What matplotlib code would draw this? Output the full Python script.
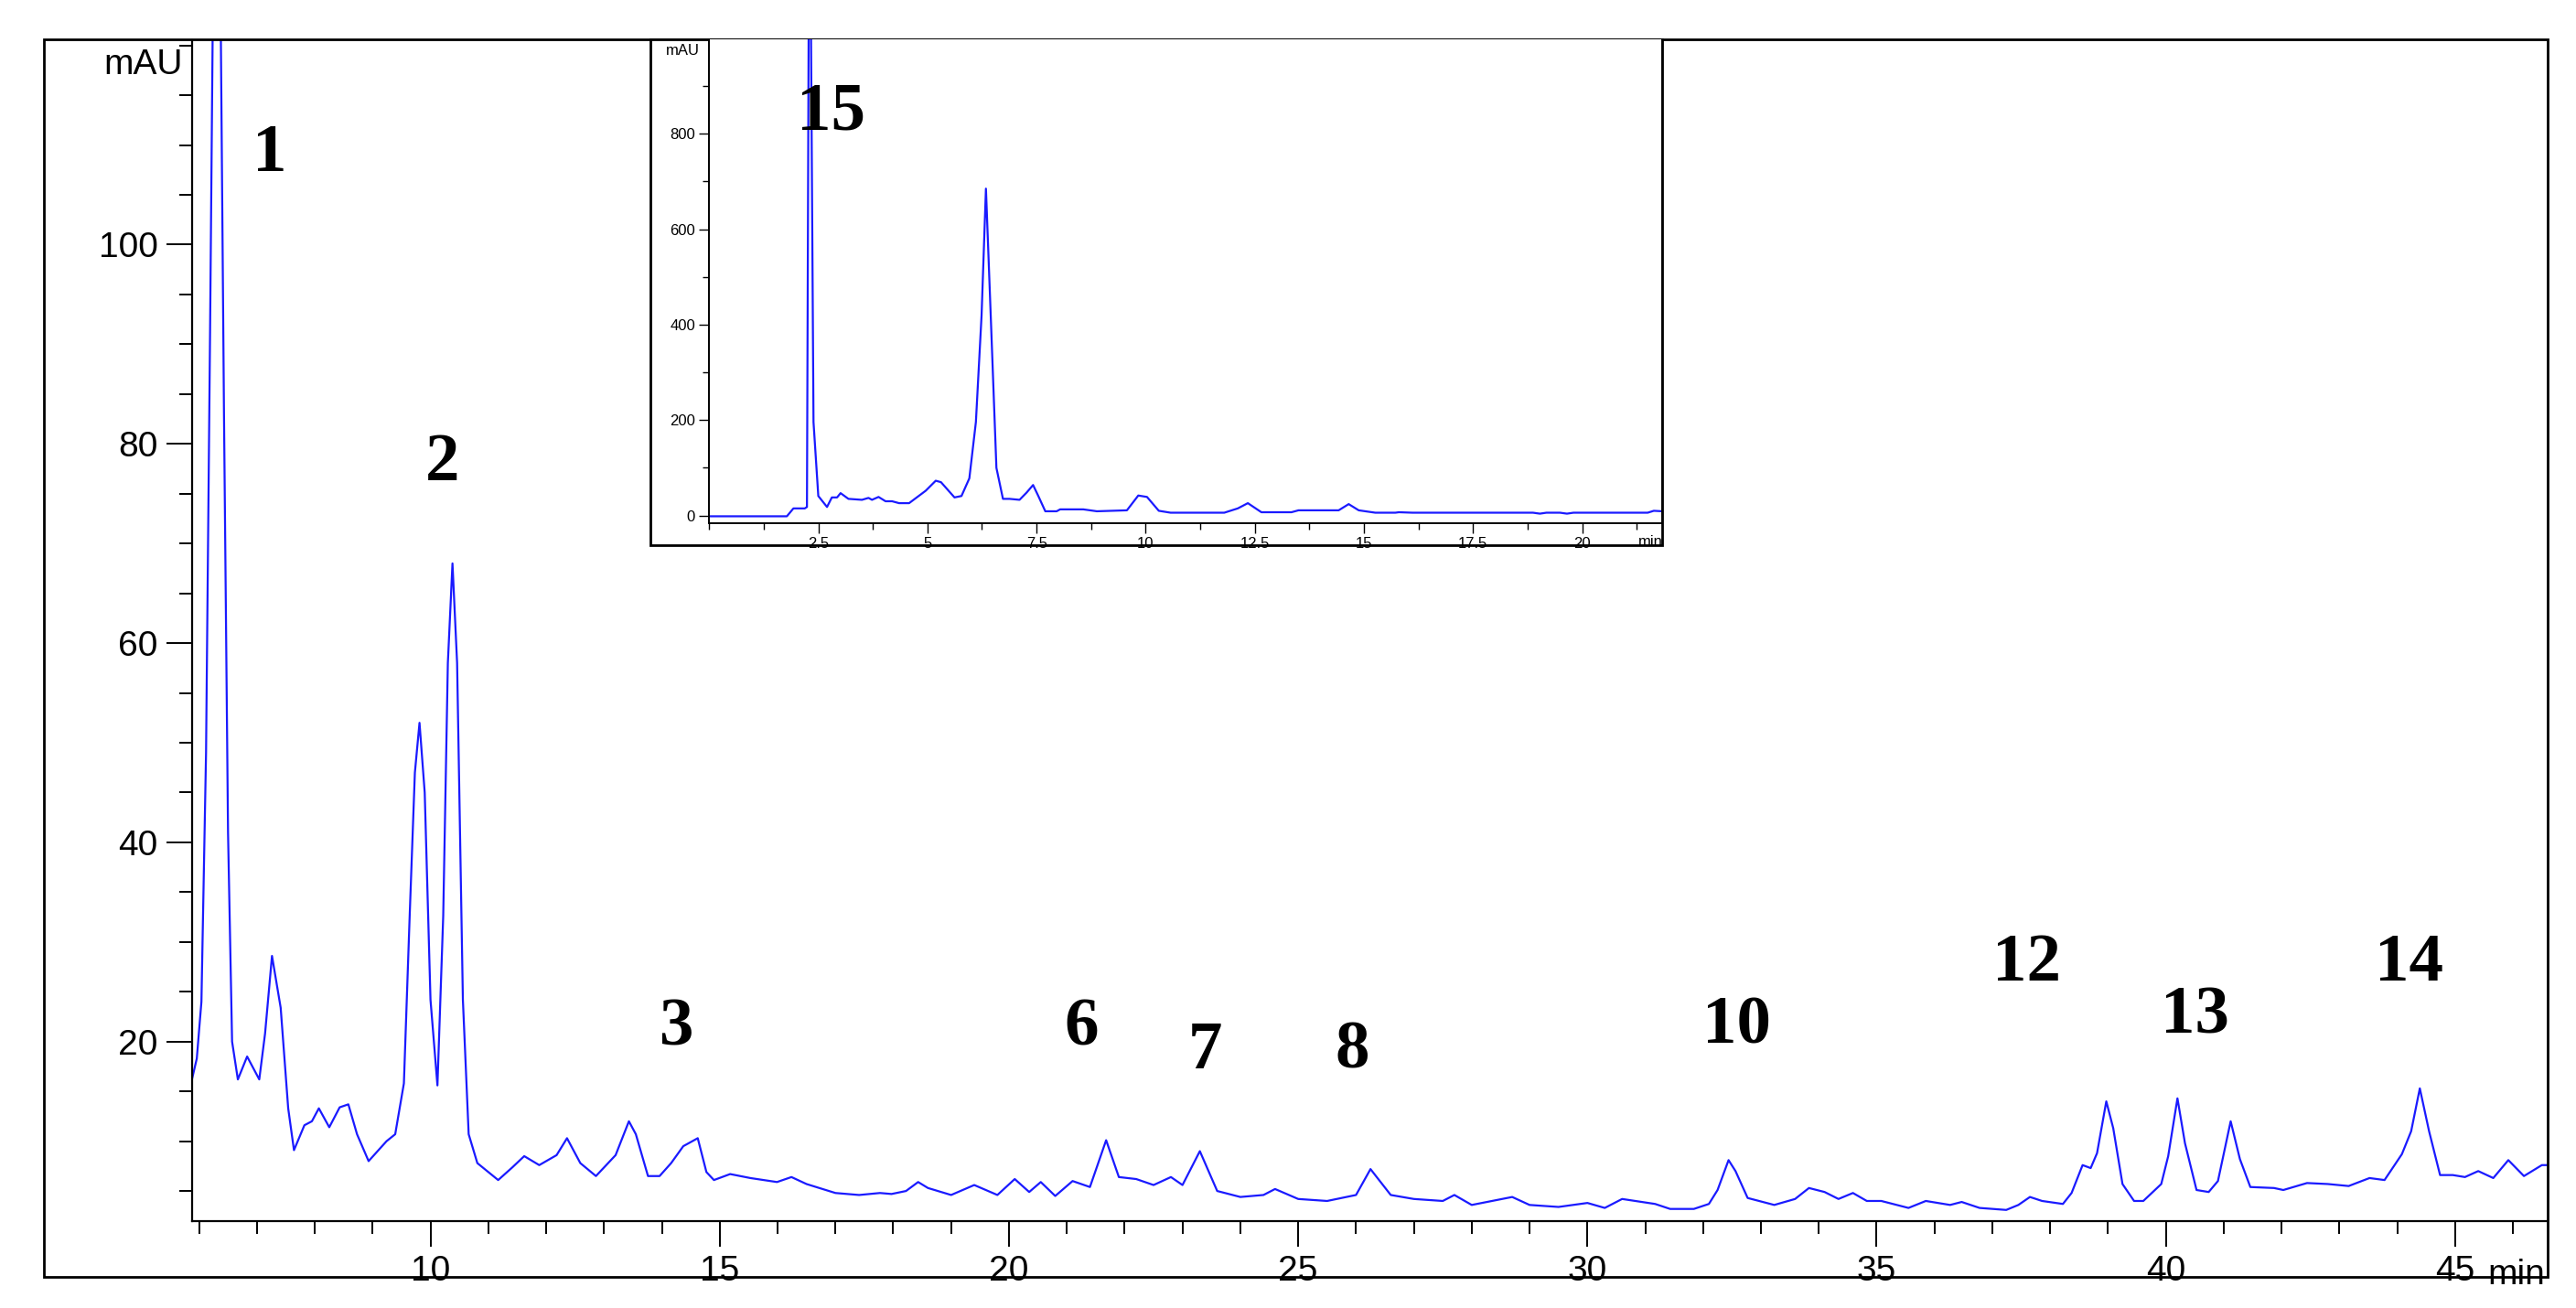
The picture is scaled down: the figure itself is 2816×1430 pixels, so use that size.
import matplotlib.pyplot as plt
from matplotlib.patches import Rectangle
from matplotlib.ticker import MultipleLocator

plt.rcParams['font.family'] = ['Liberation Sans Narrow', 'Liberation Sans', 'DejaVu Sans']

# main chromatogram (min, mAU)
main_t = [5.86, 5.96, 6.04, 6.12, 6.19, 6.24, 6.37, 6.43, 6.5, 6.57, 6.67, 6.83, 7.04, 7.14, 7.26,
          7.41, 7.54, 7.64, 7.82, 7.95, 8.07, 8.25, 8.43, 8.58, 8.73, 8.93, 9.24, 9.39, 9.54, 9.64,
          9.73, 9.81, 9.9, 10.0, 10.12, 10.22, 10.30, 10.38, 10.46, 10.56, 10.66, 10.81, 11.17, 11.42,
          11.62, 11.88, 12.18, 12.36, 12.59, 12.86, 13.2, 13.43, 13.55, 13.76, 13.96, 14.16, 14.37,
          14.62, 14.77, 14.9, 15.18, 15.53, 15.99, 16.24, 16.5, 17.0, 17.41, 17.77, 17.97, 18.22,
          18.43, 18.6, 19.0, 19.4, 19.8, 20.1, 20.35, 20.55, 20.8, 21.1, 21.4, 21.68, 21.9, 22.2,
          22.5, 22.8, 23.0, 23.3, 23.6, 24.0, 24.4, 24.6, 25.0, 25.5, 26.0, 26.25, 26.6, 27.0, 27.5,
          27.7, 28.0, 28.7, 29.0, 29.5, 30.0, 30.3, 30.6, 31.17, 31.43, 31.84, 32.1, 32.25, 32.44,
          32.56, 32.77, 33.23, 33.59, 33.83, 34.1, 34.34, 34.59, 34.83, 35.08, 35.55, 35.85, 36.27,
          36.47, 36.78, 37.24, 37.45, 37.65, 37.86, 38.22, 38.37, 38.56, 38.7, 38.81, 38.97, 39.09,
          39.25, 39.45, 39.61, 39.92, 40.04, 40.2, 40.33, 40.53, 40.74, 40.9, 41.12, 41.28, 41.46,
          41.87, 42.03, 42.44, 42.8, 43.16, 43.52, 43.78, 44.08, 44.24, 44.39, 44.55, 44.74, 44.96,
          45.17, 45.4, 45.66, 45.92, 46.19, 46.5, 46.6]
main_y = [15.8, 18.3, 24, 49, 91.6, 125, 125, 83, 41, 20, 16.2, 18.5, 16.2, 20.8, 28.6,
          23.4, 13.3, 9.1, 11.6, 12, 13.3, 11.4, 13.4, 13.7, 10.7, 8, 10, 10.7, 15.8, 32.6,
          47, 52, 45, 24.2, 15.6, 32.6, 58, 68, 58, 24.2, 10.7, 7.8, 6.1, 7.4,
          8.5, 7.6, 8.6, 10.3, 7.8, 6.5, 8.6, 12, 10.7, 6.5, 6.5, 7.8, 9.5,
          10.3, 6.9, 6.1, 6.7, 6.3, 5.9, 6.4, 5.7, 4.8, 4.6, 4.8, 4.7, 5.0,
          5.9, 5.3, 4.6, 5.6, 4.6, 6.2, 4.9, 5.9, 4.5, 6.0, 5.4, 10.1, 6.4, 6.2,
          5.6, 6.4, 5.6, 9.0, 5.0, 4.4, 4.6, 5.2, 4.2, 4.0, 4.6, 7.2, 4.6, 4.2, 4.0,
          4.6, 3.6, 4.4, 3.6, 3.4, 3.8, 3.3, 4.2, 3.7, 3.2, 3.2, 3.7, 5.1, 8.1,
          7.0, 4.3, 3.6, 4.2, 5.3, 4.9, 4.2, 4.8, 4.0, 4.0, 3.3, 4.0, 3.6,
          3.9, 3.3, 3.1, 3.6, 4.4, 4.0, 3.7, 4.8, 7.6, 7.3, 8.8, 14.0, 11.3,
          5.7, 4.0, 4.0, 5.7, 8.5, 14.3, 9.8, 5.1, 4.9, 6.0, 12.0, 8.2, 5.4,
          5.3, 5.1, 5.8, 5.7, 5.5, 6.3, 6.1, 8.7, 11.0, 15.3, 11.0, 6.6, 6.6,
          6.4, 7.0, 6.3, 8.1, 6.5, 7.6, 7.6]

# inset chromatogram (min, mAU)
inset_t = [0, 1.78, 1.93, 2.19, 2.24, 2.28, 2.33, 2.39, 2.5, 2.7, 2.81, 2.93, 3.01, 3.19, 3.5,
           3.65, 3.73, 3.88, 4.04, 4.19, 4.35, 4.58, 4.96, 5.19, 5.31, 5.62, 5.78, 5.96, 6.11,
           6.24, 6.34, 6.45, 6.58, 6.73, 6.88, 7.11, 7.27, 7.42, 7.54, 7.7, 7.96, 8.04, 8.57,
           8.88, 9.57, 9.83, 10.03, 10.3, 10.57, 11.8, 12.11, 12.34, 12.65, 13.34, 13.5, 14.42,
           14.65, 14.88, 15.26, 15.72, 15.8, 16.11, 18.87, 19.03, 19.18, 19.49, 19.65, 19.8,
           21.5, 21.64, 21.84]
inset_y = [-1.5, -1.5, 15, 15, 18, 1050, 1050, 196, 41, 18, 38, 38, 47, 35, 33,
           37, 33, 39, 30, 30, 26, 26, 52, 73, 70, 38, 41, 78, 196,
           419, 685, 419, 100, 35, 35, 33, 48, 64, 41, 9, 9, 13, 13,
           9, 11, 42, 39, 10, 6, 6, 15, 26, 7, 7, 11, 11,
           24, 11, 6, 6, 7, 6, 6, 4, 6, 6, 4, 6,
           6, 10, 9]

main_xticks = [10, 15, 20, 25, 30, 35, 40, 45]
main_yticks = [20, 40, 60, 80, 100]
inset_xticks = [2.5, 5, 7.5, 10, 12.5, 15, 17.5, 20]
inset_yticks = [0, 200, 400, 600, 800]

peak_labels = ['1', '2', '3', '6', '7', '8', '10', '12', '13', '14']
peak_x = [7.22, 10.2, 14.26, 21.25, 23.4, 25.94, 32.58, 37.6, 40.5, 44.2]
peak_y = [109, 78, 21.3, 21.3, 19, 19, 21.5, 27.8, 22.5, 27.8]

blue = '#1a1aff'
fig = plt.figure(figsize=(14.08, 7.15), dpi=200)

# outer frame
fig.patches.append(Rectangle((0.0172, 0.0239), 0.9718, 0.9461, transform=fig.transFigure,
                             fill=False, edgecolor='black', linewidth=1.0, zorder=0))

ax = fig.add_axes([0.0746, 0.0666, 0.9144, 0.9025])
ax.plot(main_t, main_y, color=blue, linewidth=0.8)
ax.set_xlim(5.88, 46.6)
ax.set_ylim(2.0, 120.5)
for s in ['top', 'right']:
    ax.spines[s].set_visible(False)
ax.spines['left'].set_linewidth(0.8)
ax.spines['bottom'].set_linewidth(0.8)
ax.set_xticks(main_xticks)
ax.set_yticks(main_yticks)
ax.xaxis.set_minor_locator(MultipleLocator(1))
ax.yaxis.set_minor_locator(MultipleLocator(5))
ax.tick_params(which='major', length=10, width=0.7, labelsize=14, direction='out')
ax.tick_params(which='minor', length=5, width=0.7, direction='out')
ax.text(-0.004, 0.993, 'mAU', transform=ax.transAxes, ha='right', va='top', fontsize=14)
ax.text(0.999, -0.032, 'min', transform=ax.transAxes, ha='right', va='top', fontsize=14)

for lab, x, y in zip(peak_labels, peak_x, peak_y):
    ax.text(x, y, lab, ha='center', va='center', fontsize=27, fontweight='bold',
            family='Liberation Serif')

# inset frame and axes
fig.patches.append(Rectangle((0.2526, 0.583), 0.3928, 0.387, transform=fig.transFigure,
                             facecolor='white', edgecolor='black', linewidth=1.0, zorder=2))
ins = fig.add_axes([0.2753, 0.6, 0.3701, 0.37])
ins.set_zorder(3)
ins.plot(inset_t, inset_y, color=blue, linewidth=0.8)
ins.set_xlim(0, 21.84)
ins.set_ylim(-16, 998)
ins.spines['top'].set_visible(False)
for s in ins.spines.values():
    s.set_linewidth(0.7)
ins.set_xticks(inset_xticks)
ins.set_xticklabels(['2.5', '5', '7.5', '10', '12.5', '15', '17.5', '20'])
ins.set_yticks(inset_yticks)
ins.xaxis.set_minor_locator(MultipleLocator(1.25))
ins.yaxis.set_minor_locator(MultipleLocator(100))
ins.tick_params(which='major', length=4, width=0.5, labelsize=6, direction='out', pad=1.5)
ins.tick_params(which='minor', length=2.5, width=0.5, direction='out')
ins.text(-0.01, 0.99, 'mAU', transform=ins.transAxes, ha='right', va='top', fontsize=6)
ins.text(1.0, -0.025, 'min', transform=ins.transAxes, ha='right', va='top', fontsize=6)
ins.text(2.8, 843, '15', ha='center', va='center', fontsize=27, fontweight='bold',
         family='Liberation Serif')

fig.savefig('out.png', dpi=200)
